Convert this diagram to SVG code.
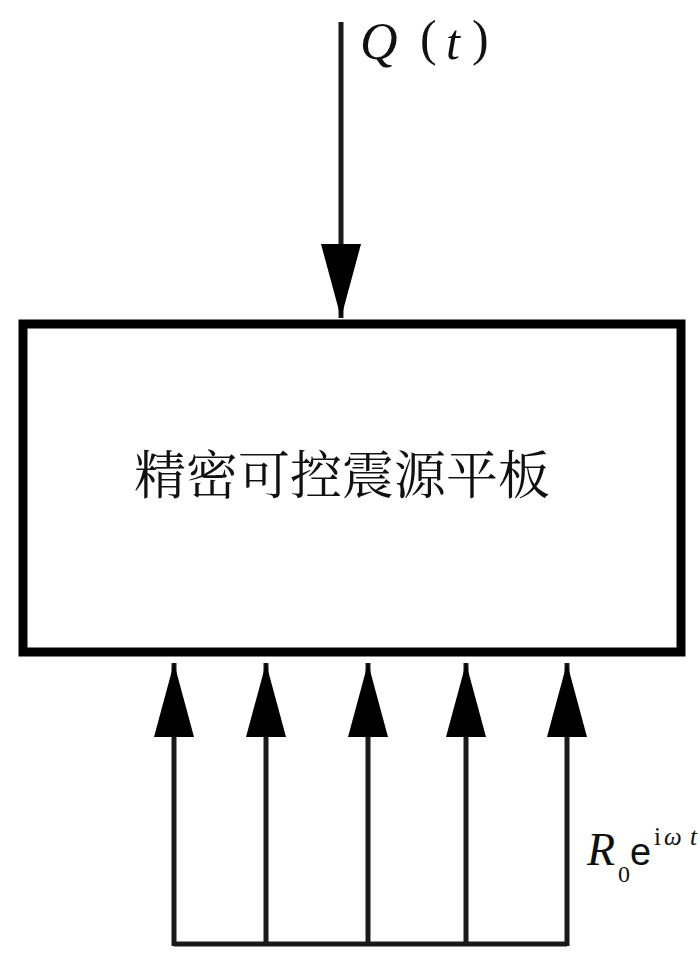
<svg xmlns="http://www.w3.org/2000/svg" width="700" height="958" viewBox="0 0 700 958">
<style>
.edge{fill:none;stroke:#1a1a1a;stroke-width:5;stroke-linejoin:miter;stroke-linecap:butt}
.box{fill:#fff;stroke:#000;stroke-width:9}
.cjk{font-family:"Noto Serif CJK SC","Noto Sans CJK SC",serif;font-size:52px;fill:#111}
.math{font-family:"Liberation Serif",serif;fill:#111}
.sans{font-family:"Liberation Sans",sans-serif;fill:#111}
</style>
<defs>
<marker id="head" markerUnits="userSpaceOnUse" markerWidth="74" markerHeight="40" refX="74" refY="20" orient="auto" viewBox="0 0 74 40">
<path d="M0,0 L74,20 L0,40 Z" fill="#000"/>
</marker>
</defs>
<rect x="0" y="0" width="700" height="958" fill="#fff"/>
<g id="plate">
<rect class="box" x="23" y="324" width="658" height="328"/>
<text class="cjk" x="342" y="494" text-anchor="middle">精密可控震源平板</text>
</g>
<g id="connectors">
<line class="edge" x1="341" y1="22" x2="341" y2="318" marker-end="url(#head)"/>
<path class="edge" d="M174,944 H567"/>
<line class="edge" x1="174" y1="946" x2="174" y2="663" marker-end="url(#head)"/>
<line class="edge" x1="266" y1="944" x2="266" y2="663" marker-end="url(#head)"/>
<line class="edge" x1="368" y1="944" x2="368" y2="663" marker-end="url(#head)" stroke="#444"/>
<line class="edge" x1="466" y1="944" x2="466" y2="663" marker-end="url(#head)"/>
<line class="edge" x1="567" y1="946" x2="567" y2="663" marker-end="url(#head)"/>
</g>
<g id="label-q">
<text class="math" x="360" y="59" font-size="52" font-style="italic">Q</text>
<text class="math" x="420" y="55" font-size="50">(</text>
<text class="math" x="446" y="59" font-size="50" font-style="italic">t</text>
<text class="math" x="472" y="55" font-size="50">)</text>
</g>
<g id="label-r">
<text class="math" x="587" y="865" font-size="46" font-style="italic">R</text>
<text class="math" x="618" y="882" font-size="24">0</text>
<text class="sans" x="630" y="865" font-size="38">e</text>
<text class="math" x="654" y="845" font-size="25">i</text>
<text class="math" x="664" y="845" font-size="25" font-style="italic">ω</text>
<text class="math" x="690" y="845" font-size="25" font-style="italic">t</text>
</g>
</svg>
